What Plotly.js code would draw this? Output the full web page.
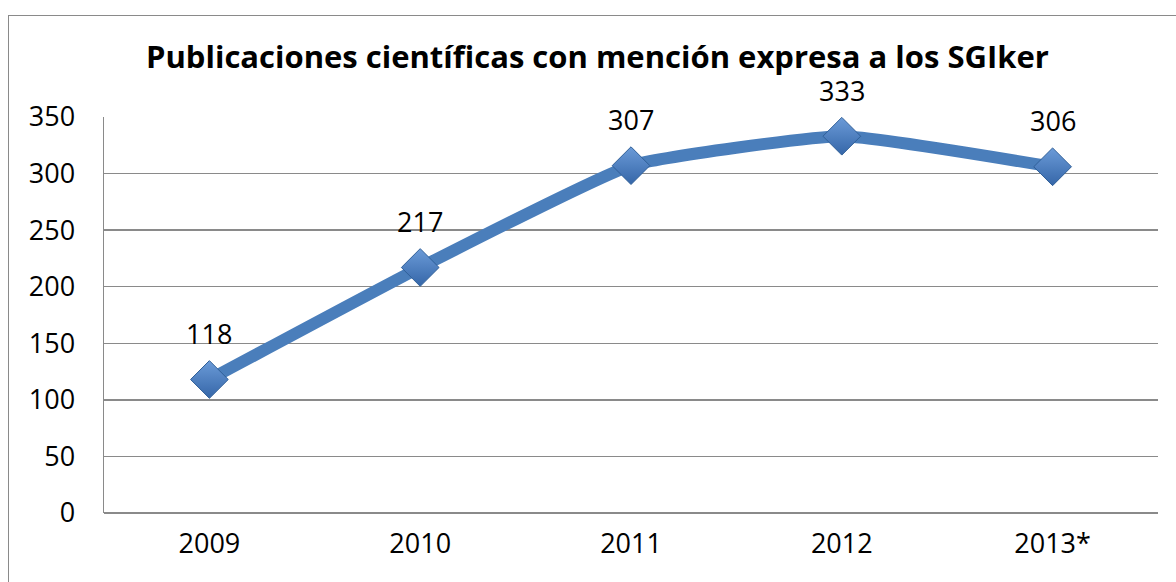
<!DOCTYPE html>
<html>
<head>
<meta charset="utf-8">
<script src="https://cdn.plot.ly/plotly-3.0.1.min.js"></script>
<style>
html,body{margin:0;padding:0;width:1176px;height:582px;overflow:hidden;background:#fff;}
#frame{position:absolute;left:8px;top:15px;width:1300px;height:700px;border:1px solid #8a8a8a;}
#chart{position:absolute;left:0;top:0;width:1176px;height:582px;}
</style>
</head>
<body>
<div id="frame"></div>
<div id="chart"></div>
<script>
const years = ["2009", "2010", "2011", "2012", "2013*"];
const publicaciones = [118, 217, 307, 333, 306];
const yTicks = [0, 50, 100, 150, 200, 250, 300, 350];

const FONT = "Open Sans, Liberation Sans, sans-serif";

const trace = {
  type: "scatter",
  mode: "lines+markers",
  x: years,
  y: publicaciones,
  line: {color: "#4a7ebb", width: 12, shape: "spline", smoothing: 0.4},
  marker: {symbol: "diamond", size: 29, color: "#6b9bd8",
           gradient: {type: "vertical", color: "#3566a8"},
           line: {color: "#2f5f98", width: 1}},
  hoverinfo: "skip"
};

const annotations = years.map((yr, i) => ({
  x: i, y: publicaciones[i], xref: "x", yref: "y",
  text: String(publicaciones[i]), showarrow: false,
  yshift: 46, font: {family: FONT, size: 27, color: "#000"}
}));

const layout = {
  width: 1176, height: 582,
  margin: {l: 104, r: 18, t: 117, b: 69, pad: 0},
  paper_bgcolor: "rgba(0,0,0,0)",
  plot_bgcolor: "rgba(0,0,0,0)",
  showlegend: false,
  title: {
    text: "<b>Publicaciones científicas con mención expresa a los SGIker</b>",
    x: 0.508, xanchor: "center", y: 0.901, yanchor: "middle",
    font: {family: FONT, size: 31, color: "#000"}
  },
  xaxis: {
    type: "category",
    range: [-0.5, 4.5],
    showgrid: false, zeroline: false,
    showline: false,
    ticks: "",
    tickfont: {family: FONT, size: 27, color: "#000"},
    ticklabelstandoff: 12
  },
  yaxis: {
    range: [0, 350],
    tickvals: yTicks,
    ticktext: yTicks.map(String),
    showgrid: true, gridcolor: "#8a8a8a", gridwidth: 1.5,
    zeroline: true, zerolinecolor: "#8a8a8a", zerolinewidth: 1.5,
    showline: true, linecolor: "#8a8a8a", linewidth: 1.5,
    ticks: "",
    tickfont: {family: FONT, size: 27, color: "#000"},
    ticklabelstandoff: 22
  },
  annotations: annotations
};

Plotly.newPlot("chart", [trace], layout, {staticPlot: true, displayModeBar: false});
</script>
</body>
</html>
